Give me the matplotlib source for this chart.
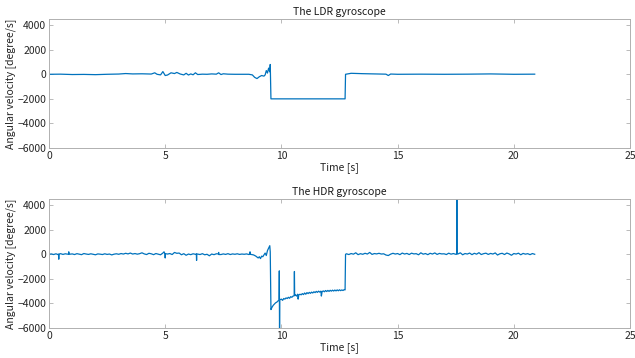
import matplotlib
matplotlib.use("Agg")
import matplotlib.pyplot as plt

plt.rcParams['font.family'] = ['Noto Sans CJK JP', 'DejaVu Sans']
plt.rcParams['axes.unicode_minus'] = True

# ---- data ----
ldr_t = [0, 0.5, 1, 1.5, 2, 2.5, 3, 3.3, 3.6, 4, 4.4, 4.55, 4.65, 4.8, 4.9, 5.0, 5.1, 5.25,
         5.4, 5.5, 5.65, 5.8, 5.9, 6.0, 6.1, 6.2, 6.3, 6.4, 6.6, 6.8, 7.0, 7.2, 7.3, 7.4, 7.5,
         7.7, 8.0, 8.3, 8.6, 8.75, 8.85, 8.95, 9.05, 9.15, 9.25, 9.3, 9.35, 9.4, 9.45, 9.5,
         9.52, 9.55, 10.5, 11.5, 12.74, 12.76, 13.0, 13.5, 14.0, 14.5, 14.6, 14.7, 15.0,
         16.0, 17.0, 18.0, 19.0, 20.0, 20.9]
ldr_v = [0, 10, -20, -10, -30, 0, 20, 60, 30, 40, 20, 120, 0, -50, 220, -100, -60, 120,
         60, 150, 20, -50, 80, -60, 30, -40, 120, -20, 10, 0, 30, 10, 120, -20, 40,
         10, 0, 0, 0, -50, -250, -350, -200, -100, -150, -50, 300, 100, 500, 200,
         800, -2000, -2000, -2000, -2000, 0, 80, 50, 30, 10, -100, 20, 0,
         10, 0, 10, 30, 0, 10]

hdr_t = [0.0, 0.1, 0.2, 0.3, 0.4, 0.41, 0.42, 0.43, 0.5, 0.6, 0.7, 0.8, 0.84, 0.85, 0.86, 1.0,
         1.1, 1.2, 1.3, 1.4, 1.5, 1.6, 1.7, 1.8, 1.9, 2.0, 2.1, 2.2, 2.3, 2.4, 2.5, 2.6, 2.7,
         2.8, 2.9, 3.0, 3.1, 3.2, 3.3, 3.4, 3.5, 3.6, 3.7, 3.8, 3.9, 4.0, 4.1, 4.2, 4.3, 4.4,
         4.5, 4.6, 4.7, 4.8, 4.9, 4.95, 4.99, 5.0, 5.01, 5.1, 5.2, 5.3, 5.4, 5.5, 5.6, 5.7,
         5.8, 5.9, 6.0, 6.1, 6.2, 6.3, 6.34, 6.35, 6.36, 6.5, 6.6, 6.7, 6.8, 6.9, 7.0, 7.1,
         7.2, 7.29, 7.3, 7.31, 7.4, 7.5, 7.6, 7.7, 7.8, 7.9, 8.0, 8.1, 8.2, 8.3, 8.4, 8.5,
         8.6, 8.64, 8.65, 8.66, 8.8, 8.9, 9.0, 9.05, 9.1, 9.15, 9.2, 9.25, 9.3, 9.35, 9.4,
         9.45, 9.5, 9.52, 9.55,
         9.60, 9.65, 9.70, 9.75, 9.80, 9.85, 9.90, 9.91, 9.92, 9.93, 10.00, 10.05, 10.10,
         10.15, 10.20, 10.25, 10.30, 10.35, 10.40, 10.45, 10.50, 10.55, 10.56, 10.57, 10.60,
         10.65, 10.70, 10.72, 10.75, 10.80, 10.85, 10.90, 10.95, 11.00, 11.05, 11.10, 11.15,
         11.20, 11.25, 11.30, 11.35, 11.40, 11.45, 11.50, 11.55, 11.60, 11.65, 11.70, 11.72,
         11.75, 11.80, 11.85, 11.90, 11.95, 12.00, 12.05, 12.10, 12.15, 12.20, 12.25, 12.30,
         12.35, 12.40, 12.45, 12.50, 12.55, 12.60, 12.65, 12.70, 12.74, 12.76,
         12.8, 12.9, 13.0, 13.1, 13.2, 13.3, 13.4, 13.5, 13.6, 13.7, 13.8, 13.9, 14.0, 14.1,
         14.2, 14.3, 14.4, 14.5, 14.6, 14.7, 14.8, 14.9, 15.0, 15.1, 15.2, 15.3, 15.4, 15.5,
         15.6, 15.7, 15.8, 15.9, 16.0, 16.1, 16.2, 16.3, 16.4, 16.5, 16.6, 16.7, 16.8, 16.9,
         17.0, 17.1, 17.2, 17.3, 17.4, 17.5, 17.54, 17.55, 17.56, 17.6, 17.7, 17.8, 17.9,
         18.0, 18.1, 18.2, 18.3, 18.4, 18.5, 18.6, 18.7, 18.8, 18.9, 19.0, 19.1, 19.2, 19.3,
         19.4, 19.5, 19.6, 19.7, 19.8, 19.9, 20.0, 20.1, 20.2, 20.3, 20.4, 20.5, 20.6, 20.7,
         20.8, 20.9]
hdr_v = [0, 30, -20, 40, -30, 0, -400, 20, 50, -10, 40, 10, 20, 200, 0, 30,
         -20, 50, 10, -30, 60, 20, -10, 40, 0, -40, 30, 10, -20, 40, -10, 20, -50,
         10, 40, 0, 60, 20, 80, 30, 100, 20, 60, 10, 50, 120, 30, -20, 80, 40,
         -30, 60, 10, -40, 100, 200, 40, -300, 50, 20, 60, -20, 150, 80, 100, -40,
         50, -80, 20, -30, 40, 0, 20, -500, 30, -20, 50, -40, 0, -120, 20, -30,
         40, 30, 150, -20, -20, 30, -10, 50, -20, 30, 0, 40, -10, 20, 0, 30,
         -20, 30, 200, 0, -50, -150, -300, -200, -350, -150, -200, -50, 100, -100, 300,
         500, 700, 200, -4500,
         -4300, -4150, -4050, -3950, -3900, -3800, -3750, -1350, -6500, -3700, -3650, -3750, -3600,
         -3650, -3550, -3600, -3500, -3580, -3450, -3500, -3400, -3380, -1400, -3350, -3300,
         -3400, -3250, -3650, -3300, -3250, -3300, -3200, -3280, -3150, -3250, -3120, -3200,
         -3100, -3180, -3080, -3150, -3050, -3120, -3020, -3100, -3000, -3080, -3000, -3400,
         -3050, -2980, -3050, -2950, -3030, -2940, -3020, -2930, -3000, -2920, -2990, -2910,
         -2980, -2900, -2970, -2890, -2960, -2900, -2950, -2880, -2900, 0,
         40, -20, 60, 10, 120, -30, 50, 0, 80, 20, 150, -10, 60, 30,
         80, 20, 40, -60, -100, 10, 80, 20, 60, -30, 100, 20, 70, -20,
         90, 30, 50, -40, 120, 10, 60, -30, 80, 20, 110, -10, 70, 30,
         40, -20, 90, 10, 60, 0, 20, 4600, 30, 30, 120, -40, 60,
         20, 100, -30, 80, 10, 130, -20, 50, 90, -10, 70, 20, 110, -60,
         40, 80, -20, 100, 30, -80, 60, 20, 90, -40, 70, 10, 50, -30,
         60, 0]

titles = ["The LDR gyroscope", "The HDR gyroscope"]
ylabel = "Angular velocity [degree/s]"
xlabel = "Time [s]"
xticks = [0, 5, 10, 15, 20, 25]
yticks = [-6000, -4000, -2000, 0, 2000, 4000]

fig = plt.figure(figsize=(6.35, 3.58), dpi=100)
ax1 = fig.add_axes([49/635, 1 - 148/358, 581/635, 129/358])
ax2 = fig.add_axes([49/635, 1 - 328/358, 581/635, 129/358])

color = '#0072BD'
fs = 7.5
for ax, t, v, title in [(ax1, ldr_t, ldr_v, titles[0]), (ax2, hdr_t, hdr_v, titles[1])]:
    ax.plot(t, v, color=color, lw=0.9)
    ax.set_xlim(0, 25)
    ax.set_ylim(-6000, 4500)
    ax.set_xticks(xticks)
    ax.set_yticks(yticks)
    ax.tick_params(direction='in', top=True, right=True, length=3, width=0.6,
                   colors='#b0b0b0', labelcolor='#262626', labelsize=fs, pad=2)
    for s in ax.spines.values():
        s.set_color('#b0b0b0')
        s.set_linewidth(0.7)
    ax.set_title(title, fontsize=fs, color='#1a1a1a', pad=3)
    ax.set_xlabel(xlabel, fontsize=fs, color='#262626', labelpad=1)
    ax.set_ylabel(ylabel, fontsize=fs, color='#262626', labelpad=1)

fig.savefig("out.png", dpi=100)
